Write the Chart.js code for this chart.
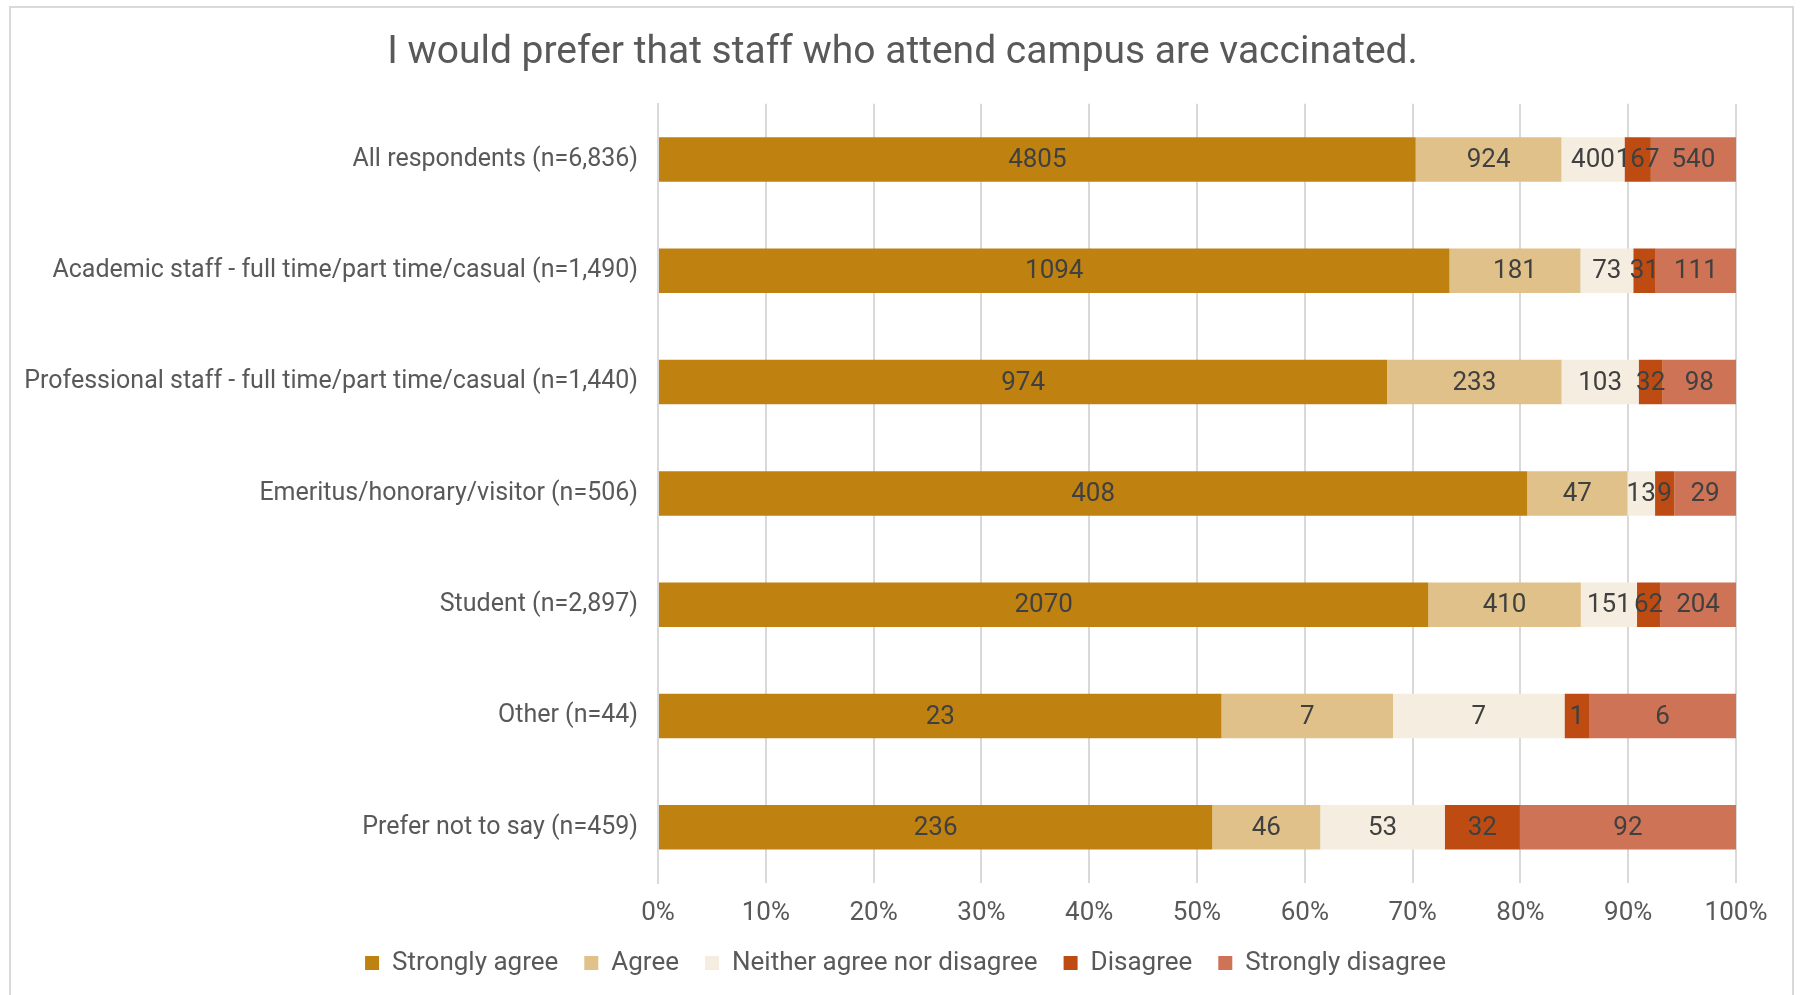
<!DOCTYPE html>
<html>
<head>
<meta charset="utf-8">
<script src="https://cdn.jsdelivr.net/npm/chart.js@4/dist/chart.umd.min.js"></script>
<style>
  html, body { margin: 0; padding: 0; background: #fff; }
  #wrap { position: relative; width: 1802px; height: 995px; }
  #frame { position: absolute; left: 9px; top: 6px; width: 1785px; height: 1000px; border: 2px solid #d9d9d9; box-sizing: border-box; pointer-events: none; }
  canvas { position: absolute; left: 0; top: 0; }
</style>
</head>
<body>
<div id="wrap">
  <canvas id="chart" width="1802" height="995"></canvas>
  <div id="frame"></div>
</div>
<script>
const groups = [
  'All respondents (n=6,836)',
  'Academic staff - full time/part time/casual (n=1,490)',
  'Professional staff - full time/part time/casual (n=1,440)',
  'Emeritus/honorary/visitor (n=506)',
  'Student (n=2,897)',
  'Other (n=44)',
  'Prefer not to say (n=459)'
];
const strongAgree    = [4805, 1094, 974, 408, 2070, 23, 236];
const agree          = [924, 181, 233, 47, 410, 7, 46];
const neither        = [400, 73, 103, 13, 151, 7, 53];
const disagree       = [167, 31, 32, 9, 62, 1, 32];
const strongDisagree = [540, 111, 98, 29, 204, 6, 92];

const seriesNames  = ['Strongly agree', 'Agree', 'Neither agree nor disagree', 'Disagree', 'Strongly disagree'];
const seriesCounts = [strongAgree, agree, neither, disagree, strongDisagree];
const seriesColors = ['#BF8211', '#E0C189', '#F5EDDF', '#BE4C12', '#CE7356'];

const totals = groups.map((g, i) => seriesCounts.reduce((s, arr) => s + arr[i], 0));

const FONT = 'Roboto, "Noto Sans", sans-serif';
const TEXT = '#595959';

// draws the raw counts in the middle of each segment
const countLabels = {
  id: 'countLabels',
  afterDatasetsDraw(chart) {
    const ctx = chart.ctx;
    ctx.save();
    ctx.font = '26px ' + FONT;
    ctx.fillStyle = '#404040';
    ctx.textAlign = 'center';
    ctx.textBaseline = 'middle';
    chart.data.datasets.forEach((ds, di) => {
      chart.getDatasetMeta(di).data.forEach((bar, i) => {
        const p = bar.getCenterPoint();
        ctx.fillText(String(ds.counts[i]), p.x, p.y + 1);
      });
    });
    ctx.restore();
  }
};

// title and legend sit centred on the whole frame, not on the padded area
const recentre = {
  id: 'recentre',
  afterLayout(chart) {
    [[chart.titleBlock, 30], [chart.legend, 33]].forEach(([box, dx]) => {
      if (!box) return;
      box.left += dx;
      box.right += dx;
    });
  }
};

new Chart(document.getElementById('chart'), {
  type: 'bar',
  data: {
    labels: groups,
    datasets: seriesNames.map((name, k) => ({
      label: name,
      data: seriesCounts[k].map((v, i) => v / totals[i] * 100),
      counts: seriesCounts[k],
      backgroundColor: seriesColors[k],
      borderWidth: 0,
      categoryPercentage: 1,
      barPercentage: 0.4
    }))
  },
  options: {
    indexAxis: 'y',
    responsive: false,
    animation: false,
    layout: { padding: { left: 9, right: 66, top: 0, bottom: 9 } },
    scales: {
      x: {
        stacked: true,
        min: 0,
        max: 100,
        ticks: {
          stepSize: 10,
          color: TEXT,
          font: { family: FONT, size: 26 },
          padding: 15,
          callback: v => v + '%'
        },
        grid: { color: '#d9d9d9', lineWidth: 2, drawTicks: false },
        border: { display: false },
        afterFit: s => { s.height = 41; }
      },
      y: {
        stacked: true,
        ticks: {
          color: TEXT,
          font: { family: FONT, size: 25 },
          padding: 20
        },
        grid: { display: false, drawTicks: false },
        border: { display: true, color: '#d9d9d9', width: 2 },
        afterFit: s => { s.width = 649; }
      }
    },
    plugins: {
      title: {
        display: true,
        text: 'I would prefer that staff who attend campus are vaccinated.',
        color: TEXT,
        font: { family: FONT, size: 39, weight: 'normal' },
        padding: { top: 30, bottom: 27 }
      },
      legend: {
        position: 'bottom',
        labels: {
          color: TEXT,
          font: { family: FONT, size: 26 },
          boxWidth: 14,
          boxHeight: 14,
          padding: 26
        }
      },
      tooltip: { enabled: false }
    }
  },
  plugins: [countLabels, recentre]
});
</script>
</body>
</html>
